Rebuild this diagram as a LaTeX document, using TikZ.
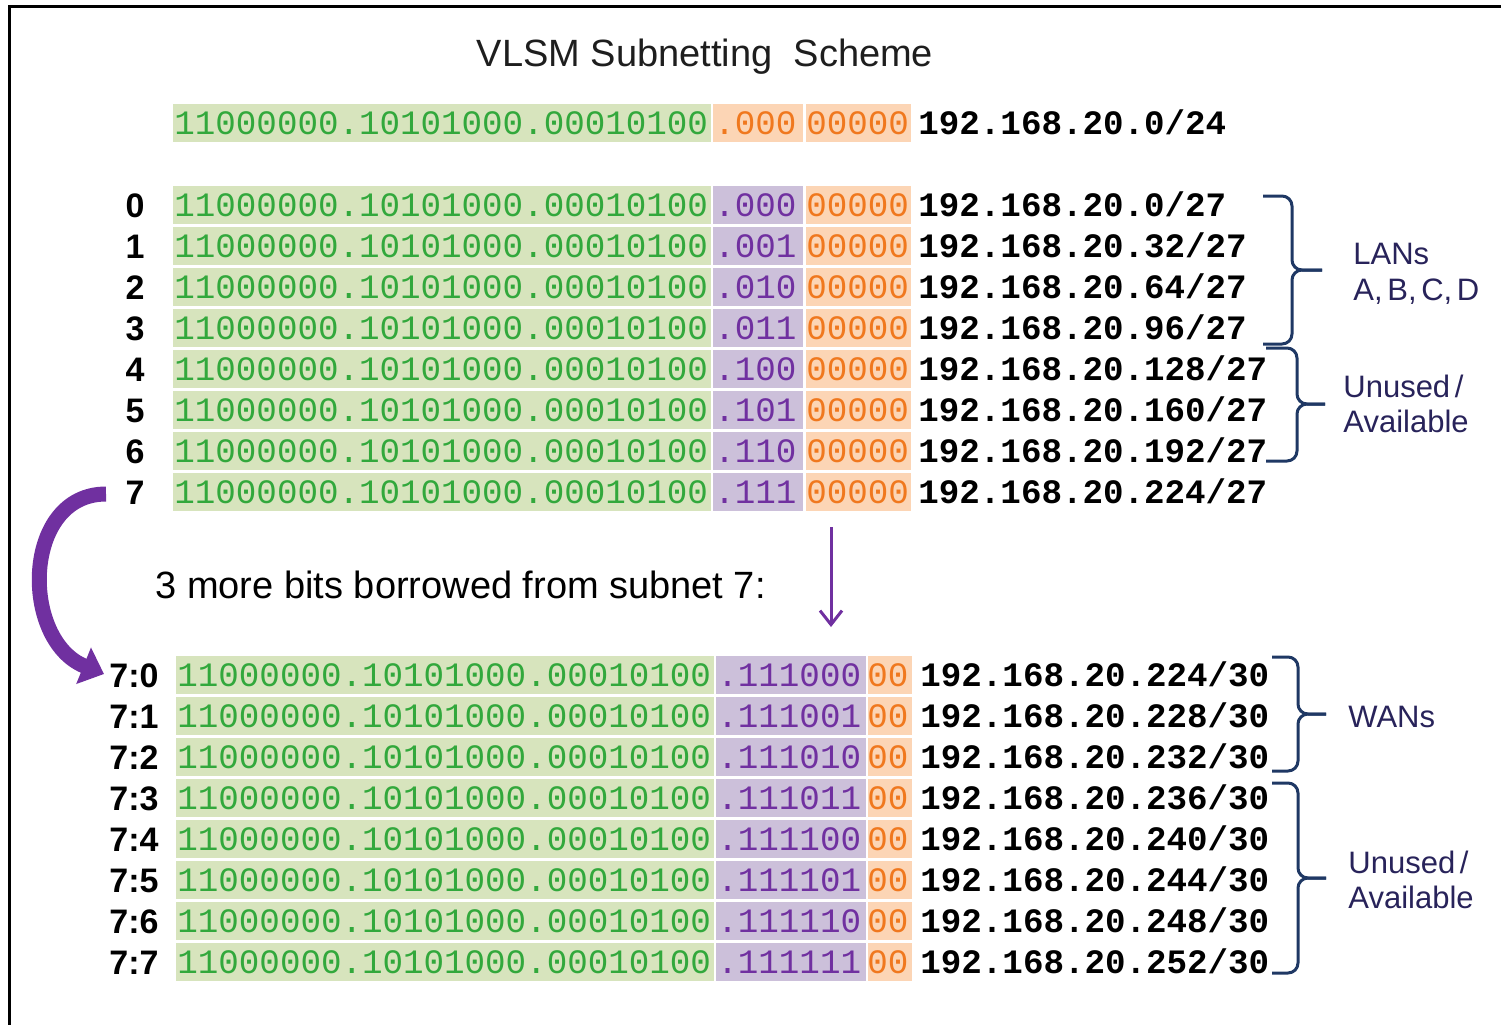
\documentclass[tikz,border=0pt]{standalone}
\usepackage{fontspec}
\setmainfont{Liberation Sans}
\setmonofont{Liberation Mono}
\usetikzlibrary{arrows.meta}
\definecolor{gband}{RGB}{215,228,189}
\definecolor{gtext}{RGB}{50,168,60}
\definecolor{pband}{RGB}{204,192,218}
\definecolor{ptext}{RGB}{112,48,160}
\definecolor{oband}{RGB}{252,213,181}
\definecolor{otext}{RGB}{240,120,30}
\definecolor{brcol}{RGB}{31,56,100}
\definecolor{lblcol}{RGB}{40,35,90}
\definecolor{arrcol}{RGB}{112,48,160}
\tikzset{
  bin/.style={anchor=base west, inner sep=0pt, font=\ttfamily\fontsize{17.1}{20}\selectfont},
  ipt/.style={anchor=base west, inner sep=0pt, font=\ttfamily\bfseries\fontsize{17.1}{20}\selectfont, text=black},
  rowlab/.style={inner sep=0pt, font=\bfseries\fontsize{17}{20}\selectfont, text=black},
  grplab/.style={anchor=base west, inner sep=0pt, font=\fontsize{15.5}{18}\selectfont, text=lblcol},
  brc/.style={draw=brcol, line width=1.5pt, rounded corners=5pt},
}
\begin{document}
\begin{tikzpicture}[x=0.5pt,y=-0.5pt]
\useasboundingbox (0,0) rectangle (1501,1025);
% frame
\draw[line width=1.5pt] (1501,6) -- (9,6) -- (9,1025);
% title
\node[anchor=base, inner sep=0pt, font=\fontsize{19}{22}\selectfont, text={rgb,255:red,30;green,30;blue,30}] (title) at (705,66) {VLSM Subnetting\ \ Scheme};
% top row
\fill[gband] (173,104) rectangle (711,142);
\fill[oband] (713,104) rectangle (803,142);
\fill[oband] (806,104) rectangle (911,142);
\node[bin,text=gtext] (binT) at (174,134) {11000000.10101000.00010100};
\node[bin,text=otext] (subT) at (714,134) {.000};
\node[bin,text=otext] (hostT) at (806,134) {00000};
\node[ipt] (ipT) at (918,134) {192.168.20.0/24};
% upper subnets
\foreach \i/\b in {0/000,1/001,2/010,3/011,4/100,5/101,6/110,7/111}{
  \pgfmathsetmacro\yc{205+41*\i}
  \pgfmathtruncatemacro\n{32*\i}
  \fill[gband] (173,\yc-19) rectangle (711,\yc+19);
  \fill[pband] (713,\yc-19) rectangle (803,\yc+19);
  \fill[oband] (806,\yc-19) rectangle (911,\yc+19);
  \node[rowlab, anchor=base] (lab\i) at (135,\yc+12) {\i};
  \node[bin,text=gtext] (bin\i) at (174,\yc+11) {11000000.10101000.00010100};
  \node[bin,text=ptext] (sub\i) at (714,\yc+11) {.\b};
  \node[bin,text=otext] (host\i) at (806,\yc+11) {00000};
  \node[ipt] (ip\i) at (918,\yc+11) {192.168.20.\n/27};
}
% lower subnets
\foreach \j/\b in {0/000,1/001,2/010,3/011,4/100,5/101,6/110,7/111}{
  \pgfmathsetmacro\yc{675+41*\j}
  \pgfmathtruncatemacro\n{224+4*\j}
  \fill[gband] (176,\yc-19) rectangle (714,\yc+19);
  \fill[pband] (716,\yc-19) rectangle (866,\yc+19);
  \fill[oband] (868,\yc-19) rectangle (912,\yc+19);
  \node[rowlab, anchor=base east] (labL\j) at (159,\yc+12) {7:\j};
  \node[bin,text=gtext] (binL\j) at (177,\yc+11) {11000000.10101000.00010100};
  \node[bin,text=ptext] (subL\j) at (717,\yc+11) {.111\b};
  \node[bin,text=otext] (hostL\j) at (867,\yc+11) {00};
  \node[ipt] (ipL\j) at (920,\yc+11) {192.168.20.\n/30};
}
% caption
\node[anchor=base west, inner sep=0pt, font=\fontsize{19}{22}\selectfont, text=black] (borrow) at (155,598) {3 more bits borrowed from subnet 7:};
% braces
\draw[brc] (1263,196) -- (1292,196) -- (1292,270) -- (1322,270);
\draw[brc] (1263,344) -- (1292,344) -- (1292,270) -- (1322,270);
\draw[brc] (1266,348) -- (1297,348) -- (1297,404) -- (1325,404);
\draw[brc] (1266,461) -- (1297,461) -- (1297,404) -- (1325,404);
\draw[brc] (1272,657) -- (1298,657) -- (1298,714) -- (1326,714);
\draw[brc] (1272,771) -- (1298,771) -- (1298,714) -- (1326,714);
\draw[brc] (1272,783) -- (1298,783) -- (1298,878) -- (1326,878);
\draw[brc] (1272,973) -- (1298,973) -- (1298,878) -- (1326,878);
% group labels
\node[grplab] (lans) at (1353,264) {LANs};
\node[grplab] (lansb) at (1353,300) {A,\hspace{0.15em}B,\hspace{0.15em}C,\hspace{0.15em}D};
\node[grplab] (un1) at (1343,397) {Unused\hspace{0.15em}/};
\node[grplab] (av1) at (1343,432) {Available};
\node[grplab] (wans) at (1348,727) {WANs};
\node[grplab] (un2) at (1348,873) {Unused\hspace{0.15em}/};
\node[grplab] (av2) at (1348,908) {Available};
% arrows
\coordinate (cs) at (106,494);
\coordinate (ce) at (104,674);
\draw[arrcol, line width=7.5pt, -{Triangle[length=11pt,width=19pt]}] (cs) .. controls (22,494) and (20,640) .. (ce);
\coordinate (ds) at (831,527);
\coordinate (de) at (831,627);
\draw[arrcol, line width=1.5pt, -{Straight Barb[length=7pt,width=11pt]}] (ds) -- (de);
\end{tikzpicture}
\end{document}
